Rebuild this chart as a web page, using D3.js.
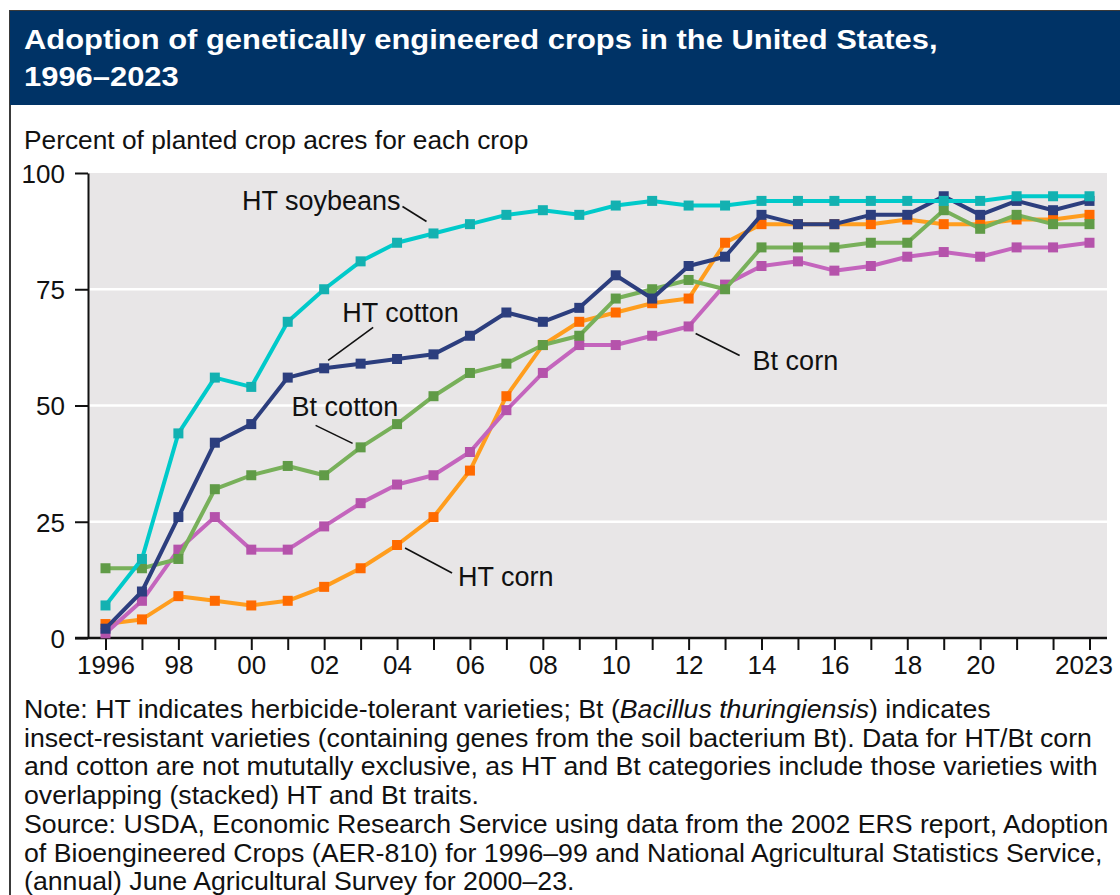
<!DOCTYPE html>
<html>
<head>
<meta charset="utf-8">
<script src="https://cdn.jsdelivr.net/npm/d3@7"></script>
<style>
  body { margin: 0; background: #fff; }
  text { font-family: "Liberation Sans", Arial, sans-serif; fill: #111; }
</style>
</head>
<body>
<script>
var width = 1120, height = 895;

// data (percent of planted acres), 1996-2023
var years = d3.range(1996, 2024);
var htSoybeans = [7, 17, 44, 56, 54, 68, 75, 81, 85, 87, 89, 91, 92, 91, 93, 94, 93, 93, 94, 94, 94, 94, 94, 94, 94, 95, 95, 95];
var htCotton   = [2, 10, 26, 42, 46, 56, 58, 59, 60, 61, 65, 70, 68, 71, 78, 73, 80, 82, 91, 89, 89, 91, 91, 95, 91, 94, 92, 94];
var btCotton   = [15, 15, 17, 32, 35, 37, 35, 41, 46, 52, 57, 59, 63, 65, 73, 75, 77, 75, 84, 84, 84, 85, 85, 92, 88, 91, 89, 89];
var btCorn     = [1, 8, 19, 26, 19, 19, 24, 29, 33, 35, 40, 49, 57, 63, 63, 65, 67, 76, 80, 81, 79, 80, 82, 83, 82, 84, 84, 85];
var htCorn     = [3, 4, 9, 8, 7, 8, 11, 15, 20, 26, 36, 52, 63, 68, 70, 72, 73, 85, 89, 89, 89, 89, 90, 89, 89, 90, 90, 91];
var yTicks = [0, 25, 50, 75, 100];
var xLabelYears = [1996, 1998, 2000, 2002, 2004, 2006, 2008, 2010, 2012, 2014, 2016, 2018, 2020, 2023];

// drawn bottom to top
var series = [
    {name: "HT corn", values: htCorn, line: "#ff9d1e", mark: "#ff6a00"},
    {name: "Bt corn", values: btCorn, line: "#c465bd", mark: "#b553ab"},
    {name: "Bt cotton", values: btCotton, line: "#78b05a", mark: "#609b47"},
    {name: "HT cotton", values: htCotton, line: "#2c3e7e", mark: "#2c3e7e"},
    {name: "HT soybeans", values: htSoybeans, line: "#00caca", mark: "#13b1b1"}
];

// label placement relative to an anchor point on the series
var labels = [
    {text: "HT soybeans", year: 2005, value: 87, l: [-31, -27, -7, -12], t: [-33, -23], anchor: "end"},
    {text: "HT cotton", year: 2002, value: 58, l: [4, -8, 49, -41], t: [18, -46], anchor: "start"},
    {text: "Bt cotton", year: 2003, value: 41, l: [-45, -22, -8, -4], t: [-69, -31], anchor: "start"},
    {text: "Bt corn", year: 2012, value: 67, l: [7, 7, 51, 29], t: [64, 44], anchor: "start"},
    {text: "HT corn", year: 2004, value: 20, l: [8, 3, 55, 28], t: [61, 41], anchor: "start"}
];

var svg = d3.select("body").append("svg")
    .attr("width", width).attr("height", height);

svg.append("rect").attr("width", width).attr("height", height).attr("fill", "#fff");

// frame + title banner
svg.append("rect").attr("x", 10).attr("y", 11).attr("width", 1200).attr("height", 1000)
    .attr("fill", "none").attr("stroke", "#3a3a3a").attr("stroke-width", 2);
svg.append("rect").attr("x", 10).attr("y", 11).attr("width", 1200).attr("height", 94).attr("fill", "#003366");

var title = svg.append("g").attr("transform", "translate(24,0) scale(1.145,1)")
    .append("text").attr("x", 0).attr("y", 49)
    .style("font-size", "27px").style("font-weight", "bold").style("fill", "#fff");
title.append("tspan").attr("x", 0).text("Adoption of genetically engineered crops in the United States,");
title.append("tspan").attr("x", 0).attr("dy", 37).text("1996–2023");

svg.append("text").attr("x", 24).attr("y", 149).style("font-size", "26.3px")
    .text("Percent of planted crop acres for each crop");

var x = d3.scaleLinear().domain([1996, 2023]).range([105.5, 1089.5]);
var y = d3.scaleLinear().domain([0, 100]).range([638, 173]);

var left = 88, right = 1107;

svg.append("rect").attr("x", left).attr("y", y(100)).attr("width", right - left).attr("height", y(0) - y(100))
    .attr("fill", "#e8e6e7");

svg.append("g").selectAll("line").data([25, 50, 75]).enter().append("line")
    .attr("x1", left).attr("x2", right)
    .attr("y1", function(d){return y(d);}).attr("y2", function(d){return y(d);})
    .attr("stroke", "#fff").attr("stroke-width", 2.5);

// axes
var yAxis = svg.append("g").attr("transform", "translate(" + left + ",0)")
    .call(d3.axisLeft(y).tickValues(yTicks).tickSize(13).tickSizeOuter(0).tickPadding(10));
yAxis.select(".domain").attr("stroke", "#111").attr("stroke-width", 2);
yAxis.selectAll(".tick line").attr("stroke", "#111").attr("stroke-width", 2);
yAxis.selectAll(".tick text").style("font-size", "26px").attr("dy", "0.36em").style("fill", "#111");

var xAxis = svg.append("g").attr("transform", "translate(0," + y(0) + ")")
    .call(d3.axisBottom(x).tickValues(years).tickSize(12).tickPadding(6)
        .tickFormat(function(d){
            if (xLabelYears.indexOf(d) < 0) return "";
            if (d === 1996 || d === 2023) return String(d);
            return d3.format("02d")(d % 100);
        }));
xAxis.select(".domain").remove();
xAxis.selectAll(".tick line").attr("stroke", "#111").attr("stroke-width", 2);
xAxis.selectAll(".tick text").style("font-size", "26px").style("fill", "#111")
    .attr("dx", function(d){return d === 2023 ? -6 : 0;});
xAxis.append("line").attr("x1", left - 13).attr("x2", right).attr("y1", 0).attr("y2", 0)
    .attr("stroke", "#111").attr("stroke-width", 2.5);

// series
var line = d3.line().x(function(d, i){return x(years[i]);}).y(function(d){return y(d);});

var groups = svg.append("g").selectAll("g").data(series).enter().append("g");
groups.append("path").attr("d", function(d){return line(d.values);})
    .attr("fill", "none").attr("stroke", function(d){return d.line;})
    .attr("stroke-width", 4).attr("stroke-linejoin", "round");
groups.each(function(s){
    d3.select(this).selectAll("rect").data(s.values).enter().append("rect")
        .attr("x", function(d, i){return x(years[i]) - 5;})
        .attr("y", function(d){return y(d) - 5;})
        .attr("width", 10).attr("height", 10)
        .attr("fill", s.mark);
});

// labels with leader lines
var lab = svg.append("g").selectAll("g").data(labels).enter().append("g")
    .attr("transform", function(d){return "translate(" + x(d.year) + "," + y(d.value) + ")";});
lab.append("line")
    .attr("x1", function(d){return d.l[0];}).attr("y1", function(d){return d.l[1];})
    .attr("x2", function(d){return d.l[2];}).attr("y2", function(d){return d.l[3];})
    .attr("stroke", "#111").attr("stroke-width", 1.6);
lab.append("text")
    .attr("x", function(d){return d.t[0];}).attr("y", function(d){return d.t[1];})
    .attr("text-anchor", function(d){return d.anchor;})
    .style("font-size", "27px")
    .text(function(d){return d.text;});

// notes
var notes = svg.append("text").attr("x", 24).attr("y", 718).style("font-size", "26.7px");
var n1 = notes.append("tspan").attr("x", 24);
n1.append("tspan").text("Note: HT indicates herbicide-tolerant varieties; Bt (");
n1.append("tspan").style("font-style", "italic").text("Bacillus thuringiensis");
n1.append("tspan").text(") indicates");
var noteLines = [
    "insect-resistant varieties (containing genes from the soil bacterium Bt). Data for HT/Bt corn",
    "and cotton are not mututally exclusive, as HT and Bt categories include those varieties with",
    "overlapping (stacked) HT and Bt traits.",
    "Source: USDA, Economic Research Service using data from the 2002 ERS report, Adoption",
    "of Bioengineered Crops (AER-810) for 1996–99 and National Agricultural Statistics Service,",
    "(annual) June Agricultural Survey for 2000–23."
];
noteLines.forEach(function(t){
    notes.append("tspan").attr("x", 24).attr("dy", 28.7).text(t);
});
</script>
</body>
</html>
